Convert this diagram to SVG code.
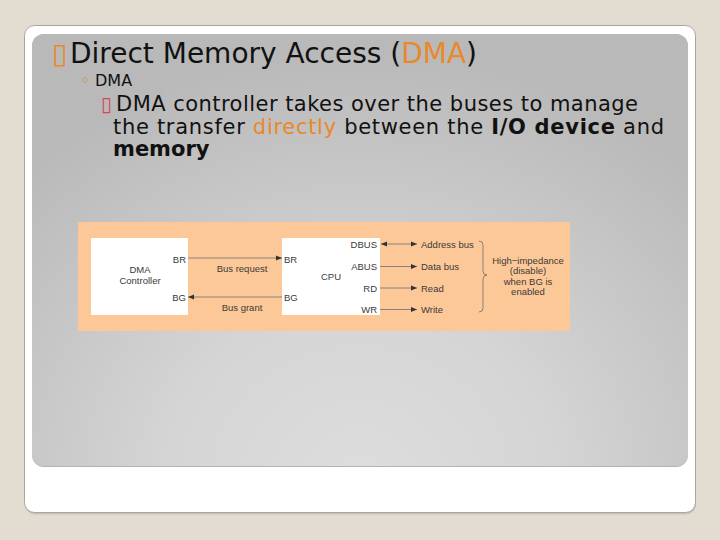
<svg xmlns="http://www.w3.org/2000/svg" width="720" height="540" viewBox="0 0 720 540">
  <defs>
    <radialGradient id="panelGrad" gradientUnits="userSpaceOnUse" cx="360" cy="480" r="480" gradientTransform="translate(360 480) scale(1 0.9) translate(-360 -480)">
      <stop offset="0" stop-color="#dddddd"/>
      <stop offset="0.4" stop-color="#d5d5d5"/>
      <stop offset="1" stop-color="#b9b9b9"/>
    </radialGradient>
    <marker id="arr" viewBox="0 0 10 10" refX="10" refY="5" markerWidth="6" markerHeight="6" orient="auto-start-reverse" markerUnits="userSpaceOnUse">
      <path d="M0,1 L10,5 L0,9 Z" fill="#333"/>
    </marker>
    <style>
      .title { font-family: "DejaVu Sans", Verdana, sans-serif; font-size: 28px; fill: #111; }
      .sub { font-family: "DejaVu Sans", Verdana, sans-serif; font-size: 16px; fill: #111; }
      .body { font-family: "DejaVu Sans", Verdana, sans-serif; font-size: 21px; fill: #111; }
      .accent { fill: #e8892b; }
      .b { font-weight: bold; }
      .lbl { font-family: "Liberation Sans", Arial, sans-serif; font-size: 9.5px; fill: #3a3a3a; }
      .box { fill: #ffffff; }
      .wire { stroke: #6f6f6f; stroke-width: 0.8; fill: none; }
    </style>
  </defs>

  <!-- background -->
  <rect x="0" y="0" width="720" height="540" fill="#e3ddd1"/>
  <!-- card -->
  <rect x="25" y="27.5" width="671" height="487" rx="10" fill="#c8c3b9"/>
  <rect x="24.5" y="25.5" width="671" height="487" rx="10" fill="#ffffff" stroke="#aaa59b" stroke-width="1"/>
  <!-- panel -->
  <rect x="32" y="34" width="656" height="433" rx="12" fill="#b3b3b3"/>
  <rect x="32" y="34" width="656" height="432" rx="12" fill="url(#panelGrad)"/>

  <!-- slide text -->
  <g id="heading">
    <text class="title accent" x="52" y="63" font-size="24">▯</text>
    <text class="title" x="70" y="63">Direct Memory Access (<tspan class="accent">DMA</tspan>)</text>
  </g>
  <g id="sub-bullet">
    <circle cx="85" cy="80" r="2.3" fill="none" stroke="#c79a66" stroke-width="1"/>
    <text class="sub" x="95" y="86">DMA</text>
  </g>
  <g id="body-text">
    <text x="101" y="111" font-family="DejaVu Sans, sans-serif" font-size="20" fill="#d2485a">▯</text>
    <text class="body" x="116" y="111" textLength="522" lengthAdjust="spacing">DMA controller takes over the buses to manage</text>
    <text class="body" x="113" y="133.5" textLength="551" lengthAdjust="spacing">the transfer <tspan class="accent">directly</tspan> between the <tspan class="b">I/O device</tspan> and</text>
    <text class="body b" x="113" y="156">memory</text>
  </g>

  <!-- figure -->
  <rect x="78" y="222" width="492" height="109" fill="#fdc898"/>

  <g id="dma-controller">
    <rect class="box" x="91" y="238" width="97" height="77"/>
    <text class="lbl" x="140" y="273" text-anchor="middle">DMA</text>
    <text class="lbl" x="140" y="284" text-anchor="middle">Controller</text>
    <text class="lbl" x="186" y="263" text-anchor="end">BR</text>
    <text class="lbl" x="186" y="301" text-anchor="end">BG</text>
  </g>

  <g id="cpu">
    <rect class="box" x="282" y="238" width="98" height="77"/>
    <text class="lbl" x="284" y="263">BR</text>
    <text class="lbl" x="284" y="301">BG</text>
    <text class="lbl" x="331" y="280" text-anchor="middle">CPU</text>
    <text class="lbl" x="377" y="247.5" text-anchor="end">DBUS</text>
    <text class="lbl" x="377" y="270" text-anchor="end">ABUS</text>
    <text class="lbl" x="377" y="291.5" text-anchor="end">RD</text>
    <text class="lbl" x="377" y="313" text-anchor="end">WR</text>
  </g>

  <g id="bus-labels">
    <text class="lbl" x="421" y="247.5">Address bus</text>
    <text class="lbl" x="421" y="270">Data bus</text>
    <text class="lbl" x="421" y="291.5">Read</text>
    <text class="lbl" x="421" y="313">Write</text>
  </g>

  <g id="note">
    <text class="lbl" x="528" y="264" text-anchor="middle">High−impedance</text>
    <text class="lbl" x="528" y="274" text-anchor="middle">(disable)</text>
    <text class="lbl" x="528" y="285" text-anchor="middle">when BG is</text>
    <text class="lbl" x="528" y="295" text-anchor="middle">enabled</text>
  </g>

  <g id="connectors">
    <line class="wire" x1="188" y1="258" x2="282" y2="258" marker-end="url(#arr)"/>
    <text class="lbl" x="242" y="272" text-anchor="middle">Bus request</text>
    <line class="wire" x1="282" y1="297" x2="188" y2="297" marker-end="url(#arr)"/>
    <text class="lbl" x="242" y="311" text-anchor="middle">Bus grant</text>
    <line class="wire" x1="381" y1="244" x2="417" y2="244" marker-start="url(#arr)" marker-end="url(#arr)"/>
    <line class="wire" x1="380" y1="266.5" x2="417" y2="266.5" marker-end="url(#arr)"/>
    <line class="wire" x1="380" y1="288" x2="417" y2="288" marker-end="url(#arr)"/>
    <line class="wire" x1="380" y1="309.5" x2="417" y2="309.5" marker-end="url(#arr)"/>
    <path class="wire" d="M479,241 Q483,241 483,245 L483,271 Q483,275 487,275 Q483,275 483,279 L483,308 Q483,312 479,312"/>
  </g>
</svg>
